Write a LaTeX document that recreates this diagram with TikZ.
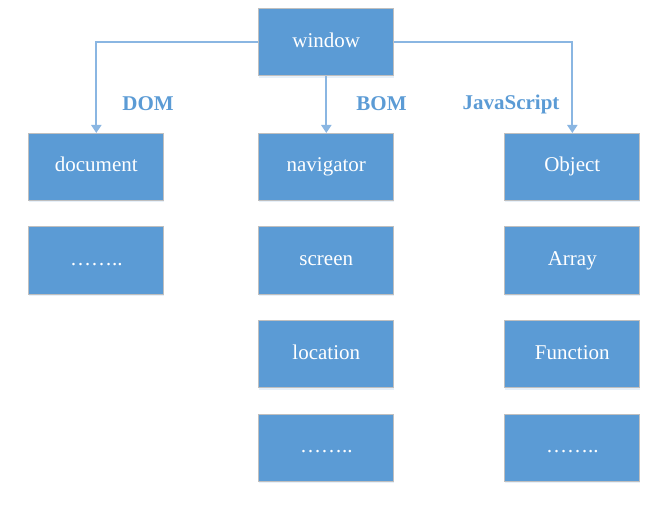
\documentclass[tikz,border=0pt]{standalone}
\usepackage{fontspec}
\setmainfont{Liberation Serif}
\usetikzlibrary{arrows.meta,shadows}
\definecolor{boxfill}{HTML}{5B9BD5}
\definecolor{boxedge}{HTML}{BFBFBF}
\definecolor{linecol}{HTML}{8AB6E2}
\definecolor{labcol}{HTML}{5B9BD5}
\tikzset{
  bx/.style={draw=boxedge, line width=1bp, fill=boxfill, text=white,
    minimum width=135bp, minimum height=67bp, inner sep=0pt,
    font=\fontsize{21bp}{24bp}\selectfont, text height=14bp, text depth=4bp,
    drop shadow={shadow xshift=0bp, shadow yshift=-2bp, fill=boxfill, opacity=0.15}},
  conn/.style={draw=linecol, line width=2bp, -{Triangle[width=10bp,length=8bp]}},
  lab/.style={text=labcol, font=\fontsize{21bp}{24bp}\selectfont\bfseries, inner sep=0pt}
}
\begin{document}
\begin{tikzpicture}[x=1bp,y=-1bp]
\useasboundingbox (0,0) rectangle (672,509);
\node[bx] (win) at (326.3,42.5) {window};
\node[bx] (doc) at (96.3,167) {document};
\node[bx] (d2) at (96.3,260.5) {……..};
\node[bx] (nav) at (326.3,167) {navigator};
\node[bx] (scr) at (326.3,260.5) {screen};
\node[bx] (loc) at (326.3,354) {location};
\node[bx] (b4) at (326.3,447.5) {……..};
\node[bx] (obj) at (572.3,167) {Object};
\node[bx] (arr) at (572.3,260.5) {Array};
\node[bx] (fun) at (572.3,354) {Function};
\node[bx] (j4) at (572.3,447.5) {……..};
\draw[conn] (win.west) -| (doc.north);
\draw[conn] (win.south) -- (nav.north);
\draw[conn] (win.east) -| (obj.north);
\node[lab] (ldom) at (148,104) {DOM};
\node[lab] (lbom) at (381.5,104) {BOM};
\node[lab] (ljs) at (511,104) {JavaScript};
\end{tikzpicture}
\end{document}
